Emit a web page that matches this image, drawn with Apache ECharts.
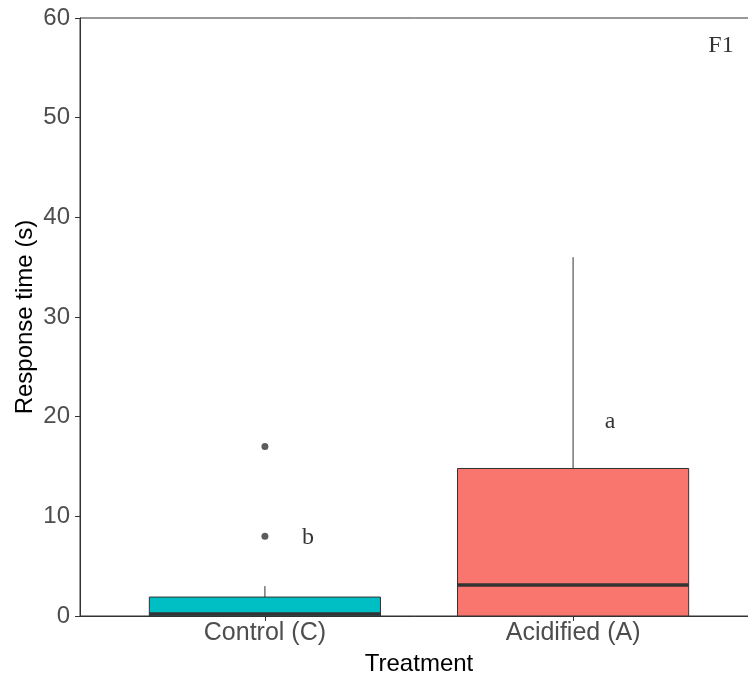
<!DOCTYPE html>
<html>
<head>
<meta charset="utf-8">
<script src="https://cdn.jsdelivr.net/npm/echarts@6/dist/echarts.min.js"></script>
<style>
  html, body { margin: 0; padding: 0; background: #fff; }
  #chart { width: 748px; height: 677px; }
</style>
</head>
<body>
<div id="chart"></div>
<script>
// groups and box stats: [x, min, q1, median, q3, max]
var groups = ["Control (C)", "Acidified (A)"];
var groupX = [1, 2];
var boxStats = [
  [1, 0, 0, 0.2, 1.9, 3],
  [2, 0, 0, 3.1, 14.8, 36]
];
var boxColors = ["#00BFC4", "#F8766D"];
var outliers = [[1, 8], [1, 17]];
var letters = [
  { text: "b", pos: [1.14, 7.9] },
  { text: "a", pos: [2.12, 19.5] },
  { text: "F1", pos: [2.48, 57.2] }
];
var yTicks = [0, 10, 20, 30, 40, 50, 60];

var chart = echarts.init(document.getElementById("chart"));

function renderBox(params, api) {
  var x = api.value(0);
  var vmin = api.value(1), q1 = api.value(2), med = api.value(3), q3 = api.value(4), vmax = api.value(5);
  var halfW = api.size([0.75, 0])[0] / 2;
  var pMax = api.coord([x, vmax]), pQ3 = api.coord([x, q3]);
  var pQ1 = api.coord([x, q1]), pMin = api.coord([x, vmin]);
  var pMed = api.coord([x, med]);
  var lineStyle = { stroke: "#333333", lineWidth: 1 };
  return {
    type: "group",
    children: [
      { type: "line", shape: { x1: pMax[0], y1: pMax[1], x2: pQ3[0], y2: pQ3[1] }, style: lineStyle },
      { type: "line", shape: { x1: pQ1[0], y1: pQ1[1], x2: pMin[0], y2: pMin[1] }, style: lineStyle },
      { type: "rect", shape: { x: pQ3[0] - halfW, y: pQ3[1], width: halfW * 2, height: pQ1[1] - pQ3[1] },
        style: { fill: boxColors[params.dataIndex], stroke: "#333333", lineWidth: 1 } },
      { type: "line", shape: { x1: pMed[0] - halfW, y1: pMed[1], x2: pMed[0] + halfW, y2: pMed[1] },
        style: { stroke: "#333333", lineWidth: 3.5 } }
    ]
  };
}

var option = {
  animation: false,
  grid: {
    left: 80, right: -10, top: 18, bottom: 61,
    outerBoundsMode: "none",
    show: true, borderColor: "#333333", borderWidth: 1
  },
  xAxis: {
    type: "value", min: 0.4, max: 2.6,
    name: "Treatment", nameLocation: "middle", nameGap: 36, nameMoveOverlap: false,
    nameTextStyle: { fontFamily: "Liberation Sans", fontSize: 24, color: "#000" },
    splitLine: { show: false },
    axisLine: { lineStyle: { color: "#333333" } },
    axisTick: { customValues: groupX, length: 5, lineStyle: { color: "#333333" } },
    axisLabel: {
      customValues: groupX, margin: 5,
      fontFamily: "Liberation Sans", fontSize: 25, color: "#4D4D4D",
      formatter: function (v) { return groups[groupX.indexOf(v)]; }
    }
  },
  yAxis: {
    type: "value", min: 0, max: 60, interval: 10,
    name: "Response time (s)", nameLocation: "middle", nameGap: 43, nameMoveOverlap: false,
    nameTextStyle: { fontFamily: "Liberation Sans", fontSize: 24, color: "#000" },
    splitLine: { show: false },
    axisLine: { show: true, lineStyle: { color: "#333333" } },
    axisTick: { show: true, length: 5, lineStyle: { color: "#333333" } },
    axisLabel: {
      customValues: yTicks, margin: 10,
      fontFamily: "Liberation Sans", fontSize: 24, color: "#4D4D4D"
    }
  },
  series: [
    {
      type: "custom", renderItem: renderBox, data: boxStats,
      encode: { x: 0, y: [1, 2, 3, 4, 5] }
    },
    {
      type: "scatter", data: outliers, symbolSize: 7,
      itemStyle: { color: "#333333" }
    },
    {
      type: "scatter", symbolSize: 0,
      data: letters.map(function (d) { return { value: d.pos, name: d.text }; }),
      label: {
        show: true, position: "inside", formatter: "{b}",
        fontFamily: "Liberation Serif", fontSize: 24, color: "#000"
      }
    }
  ]
};

chart.setOption(option);
</script>
</body>
</html>
